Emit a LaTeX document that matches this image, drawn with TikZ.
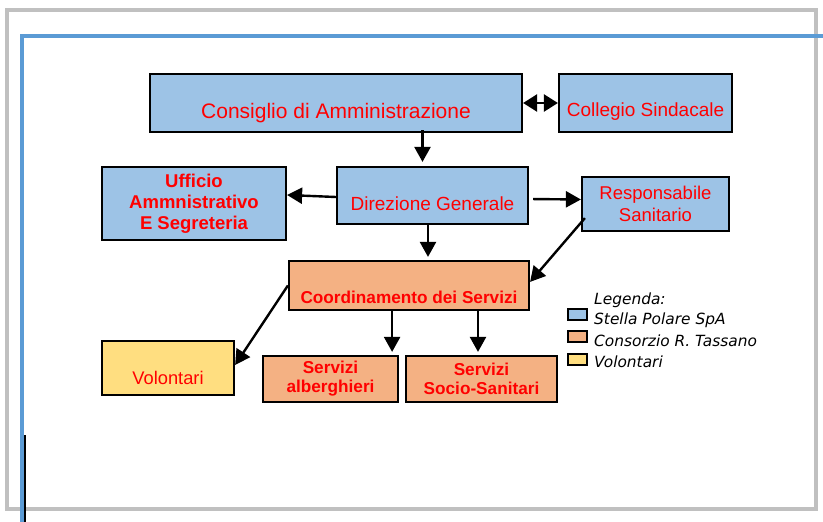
\documentclass[tikz,border=0pt]{standalone}
\usepackage{fontspec}
\setmainfont{Liberation Sans}
\newfontfamily\legfont{DejaVu Sans}
\usetikzlibrary{arrows.meta}
\definecolor{box blue}{RGB}{157,195,230}
\definecolor{box orange}{RGB}{244,177,131}
\definecolor{box yellow}{RGB}{255,222,128}
\definecolor{frame gray}{RGB}{192,192,192}
\definecolor{frame blue}{RGB}{91,155,213}
\colorlet{label red}{red}
\tikzset{unit/.style={draw=black, line width=2.2pt, inner sep=0pt},
	stella/.style={unit, fill=box blue},
	tassano/.style={unit, fill=box orange},
	volont/.style={unit, fill=box yellow},
	txt/.style 2 args={text=label red, align=center, font=\fontsize{#1}{#2}\selectfont},
	btxt/.style 2 args={text=label red, align=center, font=\fontsize{#1}{#2}\selectfont\bfseries},
	legtxt/.style={anchor=west, inner sep=0pt, font=\legfont\itshape\fontsize{15.4}{17}\selectfont},
	swatch/.style={line width=1.3pt, minimum width=19pt, minimum height=11pt},
	arr/.style={line width=2.4pt, -{Triangle[length=15pt,width=16pt]}},
	both/.style={line width=2.4pt, {Triangle[length=14pt,width=17pt]}-{Triangle[length=14pt,width=17pt]}}}

\begin{document}
\begin{tikzpicture}[x=1pt, y=-1pt]
		\useasboundingbox (0,0) rectangle (823,522);
		\draw[frame gray, line width=4pt] (7,10) rectangle (816,509);
		\draw[frame blue, line width=4pt] (823,36) -- (22,36) -- (22,522);
		\draw[line width=2pt] (25,435) -- (25,522);
		
		\node[stella, minimum width=372pt, minimum height=58pt,
			label={[txt={21}{24}, yshift=-10pt]center:Consiglio di Amministrazione}] (cda) at (336,103) {};
		\node[stella, minimum width=173pt, minimum height=58pt,
			label={[txt={19}{22}, yshift=-9pt]center:Collegio Sindacale}] (cs) at (645.5,103) {};
		\node[stella, minimum width=191pt, minimum height=57pt,
			label={[txt={19}{22}, yshift=-8pt]center:Direzione Generale}] (dg) at (432.5,195.5) {};
		\node[stella, btxt={18.5}{21}, minimum width=184pt, minimum height=73pt] (uff) at (194,203.5)
			{Ufficio\\Ammnistrativo\\E Segreteria};
		\node[stella, txt={18.5}{22}, minimum width=147pt, minimum height=54pt] (rs) at (655.5,204)
			{Responsabile\\Sanitario};
		\node[tassano, minimum width=240pt, minimum height=49pt,
			label={[btxt={17.2}{20}, yshift=-12pt]center:Coordinamento dei Servizi}] (cds) at (409,285.5) {};
		\node[volont, minimum width=132pt, minimum height=54pt,
			label={[txt={18.3}{21}, yshift=-10pt]center:Volontari}] (vol) at (168,368) {};
		\node[tassano, btxt={17.2}{19}, minimum width=135pt, minimum height=46pt] (sa) at (330.5,379)
			{Servizi\\alberghieri};
		\node[tassano, btxt={17.2}{19}, minimum width=151pt, minimum height=46pt] (ssan) at (481.5,379)
			{Servizi\\Socio-Sanitari};
		
		\coordinate (saIn) at ([xshift=-7pt]sa.north east);
		\coordinate (ssIn) at ([xshift=-3.5pt]ssan.north);
		\draw[both] (cda.east) -- (cs.west);
		\draw[arr] ([xshift=-10pt]dg.north |- cda.south) ++(0,-3) -- ([xshift=-10pt,yshift=4pt]dg.north);
		\draw[arr] ([yshift=-1.5pt]dg.west) -- ([yshift=8.5pt]uff.east);
		\draw[arr, shorten <=4pt] ([yshift=-3.5pt]dg.east) -- ([yshift=4.5pt]rs.west);
		\draw[arr, shorten >=3pt] ([xshift=-4.5pt]dg.south) -- ([xshift=-4.5pt]dg.south |- cds.north);
		\draw[arr] ([xshift=4pt,yshift=14pt]rs.south west) -- ([yshift=-22pt]cds.north east);
		\draw[arr] (cds.west) -- ([yshift=3pt]vol.east);
		\draw[arr, shorten >=3pt] (saIn |- cds.south) -- (saIn);
		\draw[arr, shorten >=3pt] (ssIn |- cds.south) -- (ssIn);
		
		\node[legtxt] (leg) at (594,300) {Legenda:};
		\node[stella, swatch] (k1) at (577.5,314.5) {};
		\node[tassano, swatch] (k2) at (577.5,336.5) {};
		\node[volont, swatch] (k3) at (577.5,359.5) {};
		\node[legtxt] at (594,320) {Stella Polare SpA};
		\node[legtxt] at (594,341) {Consorzio R. Tassano};
		\node[legtxt] at (594,362) {Volontari};
\end{tikzpicture}
\end{document}
